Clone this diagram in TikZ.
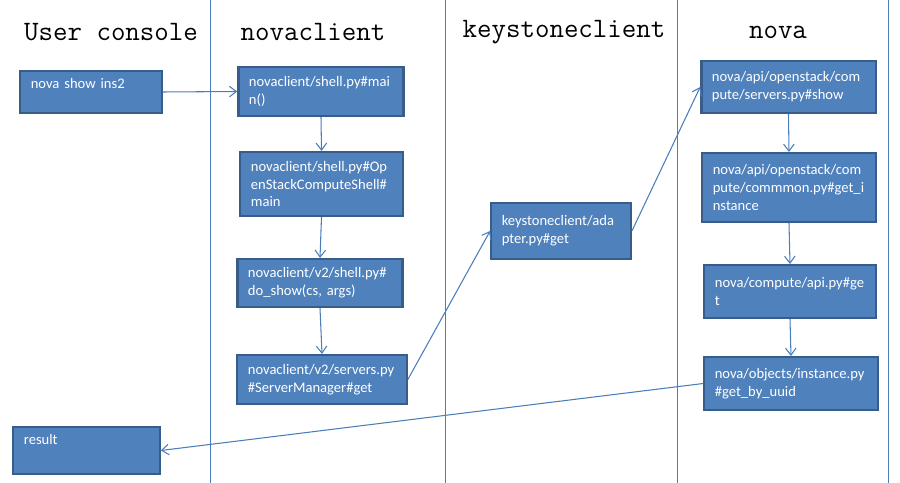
\documentclass[tikz,border=0pt]{standalone}
\usepackage{fontspec}
\setmainfont{Carlito}
\usepackage{tikz}
\usetikzlibrary{positioning, calc, arrows.meta}
\definecolor{boxfill}{HTML}{4F81BD}
\definecolor{boxline}{HTML}{385D8A}
\definecolor{flowline}{HTML}{4A7EBB}
\tikzstyle{Arrow} = [
%connector with an open barb tip
line width=0.6pt, draw=flowline,
-{Straight Barb[length=4pt, width=6pt, line width=0.6pt]}
]

\begin{document}
\begin{tikzpicture}[x=0.02cm, y=-0.02cm,
			lane/.style = {draw=flowline, line width=0.5pt},
			title/.style = {font=\ttfamily\fontsize{16}{18}\selectfont, inner sep=0pt},
			box/.style = {rectangle, draw=boxline, fill=boxfill, line width=1.3pt, text=white,
				align=left, inner xsep=6pt, inner ysep=3pt,
				font=\fontsize{8.3}{10.2}\selectfont},
		]
		\useasboundingbox (0,0) rectangle (900,483);

		% lanes
		\draw[lane] (210,0) -- (210,483);
		\draw[lane] (445,0) -- (445,483);
		\draw[lane] (677,0) -- (677,483);
		\draw[lane] (888,0) -- (888,483);

		\node[title](UC) at (111,32){User console};
		\node[title](NC) at (313,32){novaclient};
		\node[title](KC) at (564,32){keystoneclient};
		\node[title](NV) at (778,32){nova};

		% user console
		\node[box, text width=68.5pt, text height=7pt, text depth=10.6pt](Cmd) at (91,92){nova show ins2};
		\node[box, text width=71.3pt, text height=7pt, text depth=13.4pt](Result) at (86.5,450.5){result};

		% novaclient
		\node[box, text width=82pt, minimum height=27.8pt](Main) at (321,91.5){novaclient/shell.py\#mai\\n()};
		\node[box, text width=80.4pt, minimum height=36.3pt](Shell) at (321.5,184){novaclient/shell.py\#Op\\enStackComputeShell\#\\main};
		\node[box, text width=82pt, minimum height=27.2pt](DoShow) at (320,283){novaclient/v2/shell.py\#\\do\_show(cs, args)};
		\node[box, text width=84.4pt, minimum height=27.8pt](SrvGet) at (322,379.5){novaclient/v2/servers.py\\\#ServerManager\#get};

		% keystoneclient
		\node[box, text width=67.4pt, minimum height=31.8pt](KsGet) at (561,231){keystoneclient/ada\\pter.py\#get};

		% nova
		\node[box, text width=87.2pt, minimum height=29.5pt](Show) at (788.5,87){nova/api/openstack/com\\pute/servers.py\#show};
		\node[box, text width=86.7pt, minimum height=39.1pt](GetInst) at (789,187.5){nova/api/openstack/com\\pute/commmon.py\#get\_i\\nstance};
		\node[box, text width=85.5pt, minimum height=30pt](ApiGet) at (790,291.5){nova/compute/api.py\#ge\\t};
		\node[box, text width=86.7pt, minimum height=30pt](ByUuid) at (791,383.5){nova/objects/instance.py\\\#get\_by\_uuid};

		\draw[Arrow](Cmd.east)--(Main.west);
		\draw[Arrow](Main.south)--(Shell.north);
		\draw[Arrow](Shell.south)--(DoShow.north);
		\draw[Arrow](DoShow.south)--(SrvGet.north);
		\draw[Arrow](SrvGet.east)--(KsGet.west);
		\draw[Arrow](KsGet.east)--(Show.west);
		\draw[Arrow](Show.south)--(GetInst.north);
		\draw[Arrow](GetInst.south)--(ApiGet.north);
		\draw[Arrow](ApiGet.south)--(ByUuid.north);
		\draw[Arrow](ByUuid.west)--(Result.east);
	\end{tikzpicture}
\end{document}
